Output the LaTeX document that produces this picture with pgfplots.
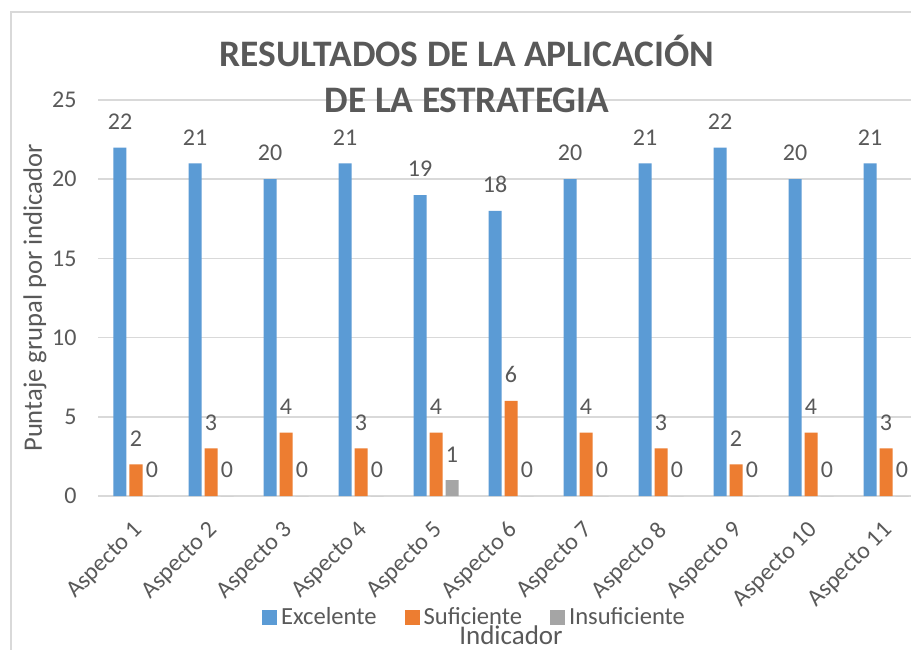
\documentclass[border=0pt]{standalone}
\usepackage{pgfplots}
\pgfplotsset{compat=1.18}
\usepackage{fontspec}
\setmainfont{Carlito}
\definecolor{cblue}{HTML}{5B9BD5}
\definecolor{corange}{HTML}{ED7D31}
\definecolor{cgray}{HTML}{A5A5A5}
\definecolor{ctext}{HTML}{595959}
\definecolor{cgrid}{HTML}{D9D9D9}
\pgfplotsset{
  sqleg/.style={legend image code/.code={\fill[##1] (0pt,-3.75pt) rectangle (7.5pt,3.75pt);}}
}
\begin{document}
\begin{tikzpicture}
\useasboundingbox (0,0) rectangle (455.5pt,324.5pt);
\fill[white] (0,0) rectangle (455.5pt,324.5pt);
\draw[cgrid, line width=0.75pt] (5.5pt,-2pt) -- (5.5pt,318.5pt) -- (470pt,318.5pt);
\begin{axis}[
  at={(49.25pt,76.5pt)}, anchor=south west,
  scale only axis, width=412.5pt, height=198pt,
  xmin=-0.5, xmax=10.5, ymin=0, ymax=25,
  ybar=1.5pt, bar width=6.5pt,
  xtick={0,...,10},
  xticklabels={Aspecto 1,Aspecto 2,Aspecto 3,Aspecto 4,Aspecto 5,Aspecto 6,Aspecto 7,Aspecto 8,Aspecto 9,Aspecto 10,Aspecto 11},
  ytick={0,5,...,25},
  ymajorgrids, major grid style={cgrid, line width=0.75pt},
  axis line style={draw=none}, major tick length=0pt,
  tick label style={font=\fontsize{12}{14}\selectfont, text=ctext},
  /pgf/number format/assume math mode=true,
  yticklabel style={anchor=east, xshift=-7.5pt},
  xticklabel style={xshift=4pt, yshift=-13pt, rotate=45, anchor=east},
  nodes near coords,
  every node near coord/.append style={font=\fontsize{12}{14}\selectfont, text=ctext, anchor=south, yshift=5.5pt},
  ylabel={Puntaje grupal por indicador},
  ylabel style={at={(axis description cs:-0.077,0.5)}, anchor=center, font=\fontsize{13.3}{15}\selectfont, text=ctext},
  xlabel={Indicador},
  xlabel style={at={(axis description cs:0.5,-0.351)}, anchor=center, font=\fontsize{13.5}{15}\selectfont, text=ctext},
  legend style={at={(axis description cs:0.457,-0.3056)}, anchor=center, draw=none, fill=none,
    legend columns=3, font=\fontsize{12.3}{14}\selectfont, text=ctext,
    /tikz/every even column/.append style={column sep=12pt}},
  clip=false,
]
\addplot[fill=cblue, draw=none, sqleg] coordinates {(0,22) (1,21) (2,20) (3,21) (4,19) (5,18) (6,20) (7,21) (8,22) (9,20) (10,21)};
\addplot[fill=corange, draw=none, sqleg] coordinates {(0,2) (1,3) (2,4) (3,3) (4,4) (5,6) (6,4) (7,3) (8,2) (9,4) (10,3)};
\addplot[fill=cgray, draw=none, sqleg] coordinates {(0,0) (1,0) (2,0) (3,0) (4,1) (5,0) (6,0) (7,0) (8,0) (9,0) (10,0)};
\legend{Excelente,Suficiente,Insuficiente}
\end{axis}
\node[anchor=base, font=\fontsize{18.7}{22}\selectfont\bfseries, text=ctext] at (233.5pt,291pt) {RESULTADOS DE LA APLICACIÓN};
\node[anchor=base, font=\fontsize{18.7}{22}\selectfont\bfseries, text=ctext] at (233.5pt,268pt) {DE LA ESTRATEGIA};
\end{tikzpicture}
\end{document}
